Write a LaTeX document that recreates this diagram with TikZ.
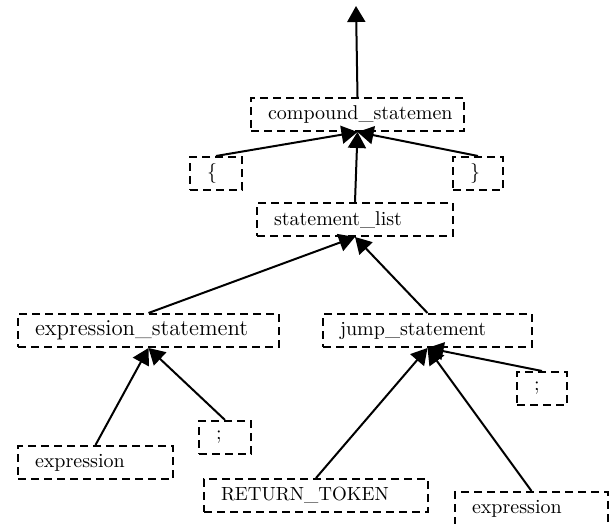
\documentclass[tikz,border=0pt]{standalone}
\usepackage{fontspec}
\usetikzlibrary{arrows.meta}
\tikzset{
  tbox/.style={draw, line width=1pt, dash pattern=on 4pt off 2.5pt,
    inner xsep=8.5pt, inner ysep=0pt, minimum height=16.5pt,
    align=left, anchor=north west, font=\fontsize{10}{12}\selectfont},
  edge/.style={line width=1pt, -{Triangle[length=8pt,width=9pt]}}
}
\begin{document}
\begin{tikzpicture}[x=0.5pt,y=-0.5pt]
\useasboundingbox (0,0) rectangle (610,524);
\node[tbox, text width=89.5pt, align=center] (cs) at (250,97) {compound\_statemen};
\node[tbox, text width=9pt] (lb) at (189,156) {\{};
\node[tbox, text width=8pt] (rb) at (452,156) {\}};
\node[tbox, text width=81pt] (sl) at (256,202) {statement\_list};
\node[tbox, text width=113.5pt, font=\fontsize{11.4}{13}\selectfont] (es) at (17,313) {expression\_statement};
\node[tbox, text width=87.5pt] (js) at (322,313) {jump\_statement};
\node[tbox, text width=8pt] (sc2) at (516,371) {;};
\node[tbox, text width=9pt] (sc1) at (198,420) {;};
\node[tbox, text width=60.5pt] (exl) at (17,445) {expression};
\node[tbox, text width=95pt, font=\fontsize{9.5}{12}\selectfont] (rt) at (203,478) {RETURN\_TOKEN};
\node[tbox, text width=59.5pt] (exr) at (454,491) {expression};
\coordinate (top) at (356,6);
\draw[edge] (cs.north) -- (top);
\draw[edge] (lb.north) -- (cs.south);
\draw[edge] (rb.north) -- (cs.south);
\draw[edge] (sl.north) -- (cs.south);
\draw[edge] (es.north) -- (sl.south);
\draw[edge] (js.north) -- (sl.south);
\draw[edge] (exl.north) -- (es.south);
\draw[edge] (sc1.north) -- (es.south);
\draw[edge] (rt.north) -- (js.south);
\draw[edge] (exr.north) -- (js.south);
\draw[edge] (sc2.north) -- (js.south);
\end{tikzpicture}
\end{document}
